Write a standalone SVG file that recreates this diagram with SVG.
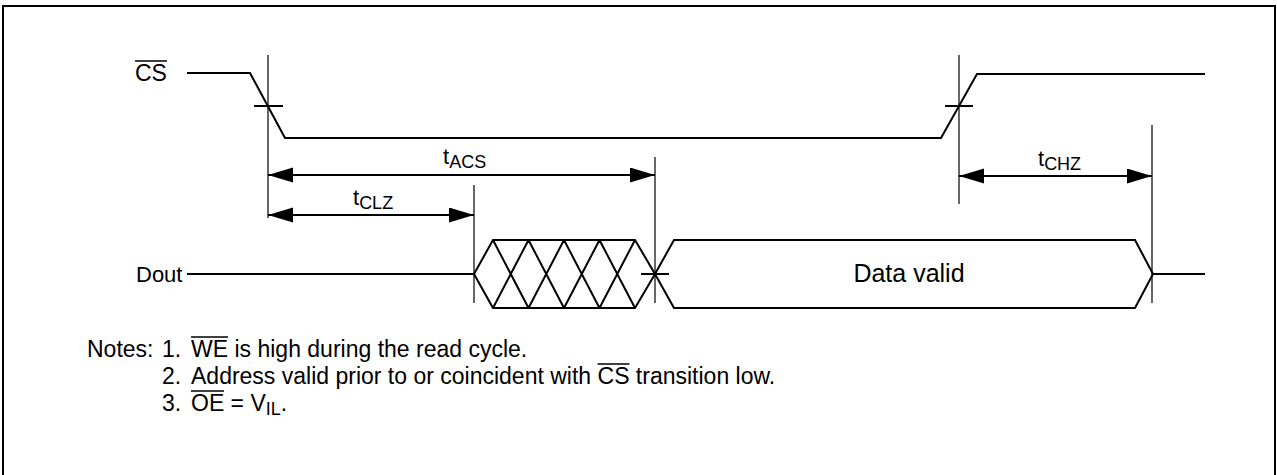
<svg xmlns="http://www.w3.org/2000/svg" width="1277" height="475" viewBox="0 0 1277 475">
<style>
.w{fill:none;stroke:#000;stroke-width:2;stroke-linejoin:miter}
.t{stroke:#000;stroke-width:1.2}
.a{stroke:#000;stroke-width:2}
.o{stroke:#000;stroke-width:1.5}
text{font-family:"Liberation Sans",Arial,sans-serif;font-size:22px;fill:#000}
.lbl{font-size:22px}
.n{font-size:23px}
.sub{font-size:18px}
</style>
<defs>
<marker id="ah" markerUnits="userSpaceOnUse" markerWidth="26" markerHeight="16" refX="25" refY="7.5" orient="auto-start-reverse">
<path d="M0,0 L25,7.5 L0,15 z" fill="#000"/>
</marker>
</defs>
<rect x="3" y="6" width="1272" height="480" fill="none" stroke="#000" stroke-width="2"/>
<g id="sig-cs">
<text x="135" y="81" style="font-size:23px">CS</text>
<line class="o" x1="135" y1="61" x2="167" y2="61"/>
<polyline class="w" points="187,73 250,73 285,138 941,138 977,74 1205,74"/>
<line class="a" x1="254" y1="106" x2="283" y2="106"/>
<line class="a" x1="945" y1="106" x2="973" y2="106"/>
</g>
<g id="sig-dout">
<text x="136" y="282" style="font-size:22px">Dout</text>
<line class="w" x1="187" y1="274" x2="474" y2="274"/>
<path class="w" d="M474,274 L493,240 L635,240 L655,274 L635,308 L493,308 Z"/>
<path class="w" d="M493,240 L528.5,308 M493,308 L528.5,240 M528.5,240 L564,308 M528.5,308 L564,240 M564,240 L599.5,308 M564,308 L599.5,240 M599.5,240 L635,308 M599.5,308 L635,240"/>
<line class="a" x1="641" y1="274" x2="669" y2="274"/>
</g>
<g id="data-valid">
<path class="w" d="M655,274 L674,240 L1135,240 L1153,274 L1135,308 L674,308 Z"/>
<line class="w" x1="1153" y1="274" x2="1205" y2="274"/>
<text x="909" y="282" text-anchor="middle" style="font-size:25px">Data valid</text>
</g>
<g id="connectors">
<line class="t" x1="268" y1="55" x2="268" y2="218"/>
<line class="t" x1="474" y1="185" x2="474" y2="303"/>
<line class="t" x1="655" y1="157" x2="655" y2="303"/>
<line class="t" x1="959" y1="55" x2="959" y2="204"/>
<line class="t" x1="1152" y1="125" x2="1152" y2="303"/>
<line class="a" x1="268" y1="175" x2="655" y2="175" marker-start="url(#ah)" marker-end="url(#ah)"/>
<line class="a" x1="268" y1="215" x2="474" y2="215" marker-start="url(#ah)" marker-end="url(#ah)"/>
<line class="a" x1="959" y1="176" x2="1152" y2="176" marker-start="url(#ah)" marker-end="url(#ah)"/>
</g>
<g id="labels">
<text class="lbl" x="443" y="164">t<tspan class="sub" dy="4">ACS</tspan></text>
<text class="lbl" x="353" y="205">t<tspan class="sub" dy="4">CLZ</tspan></text>
<text class="lbl" x="1038" y="166">t<tspan class="sub" dy="4">CHZ</tspan></text>
</g>
<g id="notes">
<text class="n" x="87" y="357">Notes:</text>
<text class="n" x="162" y="357">1.</text>
<text class="n" x="191" y="357">WE is high during the read cycle.</text>
<line class="o" x1="191" y1="337" x2="228" y2="337"/>
<text class="n" x="162" y="384">2.</text>
<text class="n" x="191" y="384">Address valid prior to or coincident with CS transition low.</text>
<line class="o" x1="597.5" y1="364" x2="629.5" y2="364"/>
<text class="n" x="162" y="411">3.</text>
<text class="n" x="191" y="411">OE = V<tspan class="sub" dy="4">IL</tspan><tspan dy="-4">.</tspan></text>
<line class="o" x1="191" y1="391" x2="224" y2="391"/>
</g>
</svg>
